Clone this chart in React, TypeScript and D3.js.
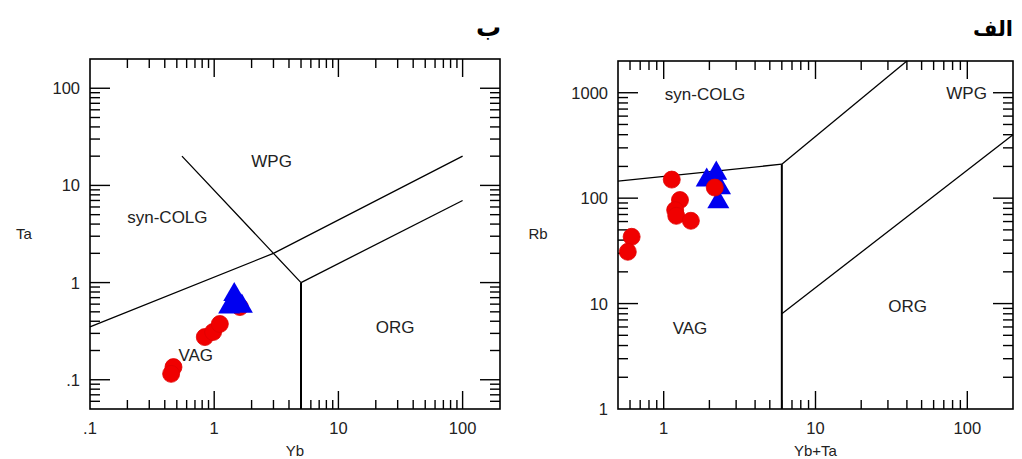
import React from 'react';
import * as d3 from 'd3';

type Pt = [number, number];

// panel "ب" : Ta vs Yb
const taYbRed: Pt[] = [
  [0.47, 0.135], [0.45, 0.115], [0.84, 0.275], [0.98, 0.31], [1.11, 0.375], [1.61, 0.56],
];
const taYbBlue: Pt[] = [
  [1.32, 0.56], [1.67, 0.57], [1.5, 0.62], [1.45, 0.75],
];
const taYbLines: Pt[][] = [
  [[0.1, 0.35], [3, 2], [100, 20]],
  [[0.55, 20], [3, 2], [5, 1]],
  [[5, 1], [100, 7]],
];
const taYbVertical: Pt[] = [[5, 1], [5, 0.05]];
const taYbRegions: { name: string; at: Pt }[] = [
  { name: 'WPG', at: [2.9, 18] },
  { name: 'syn-COLG', at: [0.42, 4.7] },
  { name: 'ORG', at: [28.6, 0.35] },
  { name: 'VAG', at: [0.71, 0.18] },
];
const taYbXTicks = [0.1, 1, 10, 100];
const taYbXLabels = ['.1', '1', '10', '100'];
const taYbYTicks = [0.1, 1, 10, 100];
const taYbYLabels = ['.1', '1', '10', '100'];

// panel "الف" : Rb vs Yb+Ta
const rbRed: Pt[] = [
  [1.13, 150], [1.28, 96], [1.19, 77], [1.21, 68], [1.51, 61], [0.615, 43], [0.58, 31], [2.17, 126],
];
const rbBlue: Pt[] = [
  [2.35, 125], [1.92, 148], [2.22, 172], [2.29, 92],
];
const rbLines: Pt[][] = [
  [[0.5, 145], [6, 210]],
  [[6, 210], [40, 2000]],
  [[6, 8], [200, 400]],
];
const rbVertical: Pt[] = [[6, 210], [6, 1]];
const rbRegions: { name: string; at: Pt }[] = [
  { name: 'syn-COLG', at: [1.87, 980] },
  { name: 'WPG', at: [99, 1000] },
  { name: 'VAG', at: [1.49, 5.9] },
  { name: 'ORG', at: [40.5, 9.4] },
];
const rbXTicks = [1, 10, 100];
const rbXLabels = ['1', '10', '100'];
const rbYTicks = [1, 10, 100, 1000];
const rbYLabels = ['1', '10', '100', '1000'];

const FONT = '"Liberation Sans", Arial, sans-serif';

interface PanelProps {
  box: { x0: number; x1: number; y0: number; y1: number };
  xDomain: [number, number];
  yDomain: [number, number];
  xTicks: number[];
  xLabels: string[];
  yTicks: number[];
  yLabels: string[];
  xTitle: string;
  yTitle: string;
  yTitleX: number;
  heading: string;
  headingX: number;
  headingSize: number;
  lines: Pt[][];
  vertical: Pt[];
  regions: { name: string; at: Pt }[];
  red: Pt[];
  blue: Pt[];
  redOnTop: boolean;
}

function Panel(p: PanelProps) {
  const { box } = p;
  const x = d3.scaleLog().domain(p.xDomain).range([box.x0, box.x1]);
  const y = d3.scaleLog().domain(p.yDomain).range([box.y1, box.y0]);
  const line = d3.line<Pt>().x(d => x(d[0])).y(d => y(d[1]));
  const isMajor = (v: number) => Math.abs(Math.log10(v) - Math.round(Math.log10(v))) < 1e-9;
  const xt = x.ticks().filter(v => v > p.xDomain[0] && v < p.xDomain[1]);
  const yt = y.ticks().filter(v => v > p.yDomain[0] && v < p.yDomain[1]);
  const tri = d3.symbol().type(d3.symbolTriangle).size(210);

  const circles = p.red.map((d, i) => (
    <circle key={'c' + i} cx={x(d[0])} cy={y(d[1])} r={8.5} fill="#f00000" stroke="#e00000" strokeWidth={0.8} />
  ));
  const triangles = p.blue.map((d, i) => (
    <path key={'t' + i} d={tri() as string} transform={`translate(${x(d[0])},${y(d[1])})`} fill="#0000f0" />
  ));

  return (
    <g fontFamily={FONT}>
      <text x={p.headingX} y={36} textAnchor="end" fontFamily='"DejaVu Sans", sans-serif' fontWeight="bold" fontSize={p.headingSize}>
        {p.heading}
      </text>
      {/* ticks, inside the frame on all four sides */}
      {xt.map((v, i) => {
        const len = isMajor(v) ? 18 : 9;
        return (
          <g key={'xt' + i} stroke="#000" strokeWidth={1.4}>
            <line x1={x(v)} x2={x(v)} y1={box.y1} y2={box.y1 - len} />
            <line x1={x(v)} x2={x(v)} y1={box.y0} y2={box.y0 + len} />
          </g>
        );
      })}
      {yt.map((v, i) => {
        const len = isMajor(v) ? 20 : 10;
        return (
          <g key={'yt' + i} stroke="#000" strokeWidth={1.4}>
            <line x1={box.x0} x2={box.x0 + len} y1={y(v)} y2={y(v)} />
            <line x1={box.x1} x2={box.x1 - len} y1={y(v)} y2={y(v)} />
          </g>
        );
      })}
      {p.lines.map((l, i) => (
        <path key={'l' + i} d={line(l) as string} fill="none" stroke="#000" strokeWidth={1.3} />
      ))}
      <path d={line(p.vertical) as string} fill="none" stroke="#000" strokeWidth={2} />
      <rect x={box.x0} y={box.y0} width={box.x1 - box.x0} height={box.y1 - box.y0} fill="none" stroke="#000" strokeWidth={1.6} />
      {p.xTicks.map((v, i) => (
        <text key={'xl' + i} x={x(v)} y={box.y1 + 25} textAnchor="middle" fontSize={16.5} fill="#222">
          {p.xLabels[i]}
        </text>
      ))}
      {p.yTicks.map((v, i) => (
        <text key={'yl' + i} x={box.x0 - 10} y={y(v) + 6} textAnchor="end" fontSize={16.5} fill="#222">
          {p.yLabels[i]}
        </text>
      ))}
      <text x={(x(p.xDomain[0]) + x(p.xDomain[1])) / 2} y={456} textAnchor="middle" fontSize={15} fill="#222">
        {p.xTitle}
      </text>
      <text x={p.yTitleX} y={239} textAnchor="middle" fontSize={15} fill="#222">
        {p.yTitle}
      </text>
      {p.regions.map((r, i) => (
        <text key={'r' + i} x={x(r.at[0])} y={y(r.at[1]) + 6} textAnchor="middle" fontSize={17} fill="#222">
          {r.name}
        </text>
      ))}
      {p.redOnTop ? [triangles, circles] : [circles, triangles]}
    </g>
  );
}

export default function App() {
  return (
    <svg width={1022} height={459} style={{ position: 'absolute', left: 0, top: 0, background: '#fff' }}>
      <rect width={1022} height={459} fill="#fff" />
      <Panel
        box={{ x0: 90, x1: 500, y0: 59, y1: 409 }}
        xDomain={[0.1, 200]}
        yDomain={[0.05, 200]}
        xTicks={taYbXTicks}
        xLabels={taYbXLabels}
        yTicks={taYbYTicks}
        yLabels={taYbYLabels}
        xTitle="Yb"
        yTitle="Ta"
        yTitleX={24}
        heading="ب"
        headingX={501}
        headingSize={25}
        lines={taYbLines}
        vertical={taYbVertical}
        regions={taYbRegions}
        red={taYbRed}
        blue={taYbBlue}
        redOnTop={false}
      />
      <Panel
        box={{ x0: 618, x1: 1013, y0: 61, y1: 409 }}
        xDomain={[0.5, 200]}
        yDomain={[1, 2000]}
        xTicks={rbXTicks}
        xLabels={rbXLabels}
        yTicks={rbYTicks}
        yLabels={rbYLabels}
        xTitle="Yb+Ta"
        yTitle="Rb"
        yTitleX={538}
        heading="الف"
        headingX={1013}
        headingSize={21}
        lines={rbLines}
        vertical={rbVertical}
        regions={rbRegions}
        red={rbRed}
        blue={rbBlue}
        redOnTop={true}
      />
    </svg>
  );
}
